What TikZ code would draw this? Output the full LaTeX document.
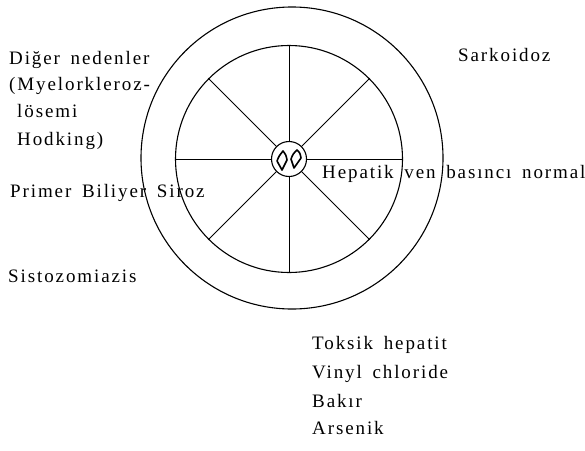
\documentclass[tikz,border=0pt]{standalone}
\usepackage{fontspec}
\setmainfont{Liberation Serif}[LetterSpace=10, WordSpace=1.6]
\usetikzlibrary{positioning}

\tikzstyle{wheel} = [circle, draw=black, line width=1.1pt, inner sep=0pt]
\tikzstyle{spoke} = [draw=black, line width=0.9pt]
\tikzstyle{lens}  = [draw=black, line width=1.6pt, line join=round]
\tikzstyle{cause} = [anchor=base west, inner sep=0pt,
                     font=\fontsize{19}{22}\selectfont]

\begin{document}
\begin{tikzpicture}[x=1pt, y=-1pt]
  \useasboundingbox (0,0) rectangle (585,450);

  %% Wheel
  \node[wheel, minimum size=302pt] (outer) at (292,158) {};
  \node[wheel, minimum size=227pt] (inner) at (289,159) {};
  \node[wheel, minimum size=35pt]  (hub)   at (289,159) {};
  \foreach \a in {0,45,...,315}
    \draw[spoke] (hub.\a) -- (inner.\a);

  %% Hub marks
  \draw[lens] (283,151) .. controls (279,156) .. (277,161)
              .. controls (279,166) .. (282,170)
              .. controls (285,165) .. (287,160)
              .. controls (286,155) .. cycle;
  \draw[lens] (297,150) .. controls (293,154) .. (291,159)
              .. controls (292,164) .. (294,168)
              .. controls (298,163) .. (301,158)
              .. controls (300,153) .. cycle;

  %% Left side causes
  \node[cause] (diger)   at (9,64)   {Diğer nedenler};
  \node[cause] (myelo)   at (9,90)   {(Myelorkleroz-};
  \node[cause] (losemi)  at (17,117) {lösemi};
  \node[cause] (hodking) at (17,145) {Hodking)};
  \node[cause] (pbs)     at (10,197) {Primer Biliyer Siroz};
  \node[cause] (sisto)   at (8,282)  {Sistozomiazis};

  %% Right side causes
  \node[cause] (sarko)   at (458,61)  {Sarkoidoz};
  \node[cause] (hepatik) at (322,178) {Hepatik ven basıncı normal};

  %% Toxic causes
  \node[cause] (toksik)  at (312,349) {Toksik hepatit};
  \node[cause] (vinyl)   at (312,378) {Vinyl chloride};
  \node[cause] (bakir)   at (312,407) {Bakır};
  \node[cause] (arsenik) at (312,434) {Arsenik};

\end{tikzpicture}
\end{document}
